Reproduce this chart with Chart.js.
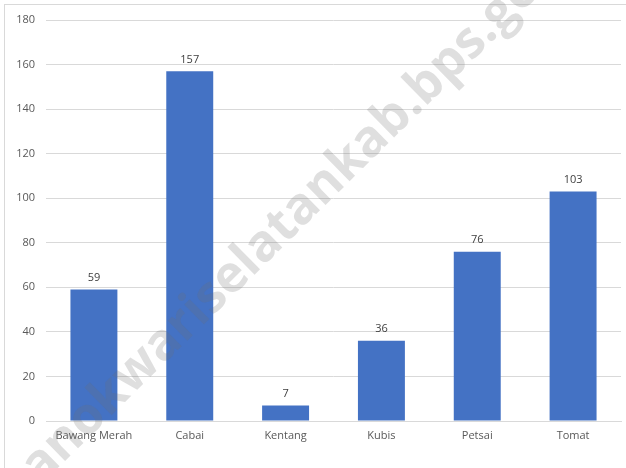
<!DOCTYPE html>
<html>
<head>
<meta charset="utf-8">
<script src="https://cdn.jsdelivr.net/npm/chart.js@4/dist/chart.umd.min.js"></script>
<style>
    html, body { margin: 0; padding: 0; background: #fff; }
    #wrap { position: relative; width: 626px; height: 468px; }
</style>
</head>
<body>
<div id="wrap"><canvas id="chart" width="626" height="468"></canvas></div>
<script>
const categories = ["Bawang Merah", "Cabai", "Kentang", "Kubis", "Petsai", "Tomat"]
const values = [59, 157, 7, 36, 76, 103]
const yTicks = [0, 20, 40, 60, 80, 100, 120, 140, 160, 180]
const watermark = "manokwariselatankab.bps.go.id"

const FONT = "'Open Sans', 'Noto Sans', sans-serif"

// frame round the chart, like the exported picture
const framePlugin = {
    id: "frame",
    beforeDraw(chart) {
        const ctx = chart.ctx
        ctx.save()
        ctx.fillStyle = "#fff"
        ctx.fillRect(0, 0, chart.width, chart.height)
        ctx.strokeStyle = "#d9d9d9"
        ctx.lineWidth = 1
        ctx.strokeRect(4.5, 4.5, chart.width + 20, chart.height + 20)
        ctx.restore()
    },
}

// value labels above each bar
const valueLabels = {
    id: "valueLabels",
    afterDatasetsDraw(chart) {
        const ctx = chart.ctx
        const meta = chart.getDatasetMeta(0)
        ctx.save()
        ctx.font = "11px " + FONT
        ctx.fillStyle = "#404040"
        ctx.textAlign = "center"
        ctx.textBaseline = "bottom"
        meta.data.forEach((bar, i) => {
            ctx.fillText(String(values[i]), bar.x, bar.y - 6)
        })
        ctx.restore()
    },
}

// diagonal watermark laid over everything
// anchored so the first "i" and the "s" of "bps" sit where they are in the source
const watermarkPlugin = {
    id: "watermark",
    afterDraw(chart) {
        const ctx = chart.ctx
        const angle = -44.5 * Math.PI / 180
        const iPos = [195, 310]
        const iToS = 383
        ctx.save()
        const centreOf = (idx) => {
            const before = ctx.measureText(watermark.slice(0, idx)).width
            return before + ctx.measureText(watermark[idx]).width / 2
        }
        ctx.font = "bold 48px " + FONT
        const size = 48 * iToS / (centreOf(22) - centreOf(8))
        ctx.font = "bold " + size.toFixed(1) + "px " + FONT
        const offset = centreOf(8)
        ctx.translate(iPos[0], iPos[1])
        ctx.rotate(angle)
        ctx.fillStyle = "rgba(110, 110, 110, 0.22)"
        ctx.textAlign = "left"
        ctx.textBaseline = "middle"
        ctx.fillText(watermark, -offset, 2)
        ctx.restore()
    },
}

new Chart(document.getElementById("chart"), {
    type: "bar",
    data: {
        labels: categories,
        datasets: [{
            data: values,
            backgroundColor: "#4472c4",
            borderWidth: 0,
            categoryPercentage: 1,
            barPercentage: 0.49,
        }],
    },
    options: {
        responsive: false,
        animation: false,
        devicePixelRatio: 1,
        layout: { padding: { top: 20, right: 5, bottom: 0, left: 0 } },
        plugins: {
            legend: { display: false },
            tooltip: { enabled: false },
        },
        scales: {
            x: {
                grid: { display: false, drawTicks: false },
                border: { display: true, color: "#d9d9d9", width: 1 },
                ticks: {
                    color: "#595959",
                    font: { family: FONT, size: 11 },
                    padding: 8,
                    maxRotation: 0,
                },
                afterFit: (scale) => { scale.height = 47 },
            },
            y: {
                min: 0,
                max: 180,
                afterBuildTicks: (scale) => {
                    scale.ticks = yTicks.map(v => ({ value: v }))
                },
                grid: { color: "#d9d9d9", drawTicks: false },
                border: { display: false },
                ticks: {
                    color: "#595959",
                    font: { family: FONT, size: 11 },
                    padding: 11,
                },
                afterFit: (scale) => { scale.width = 46 },
            },
        },
    },
    plugins: [framePlugin, valueLabels, watermarkPlugin],
})
</script>
</body>
</html>
